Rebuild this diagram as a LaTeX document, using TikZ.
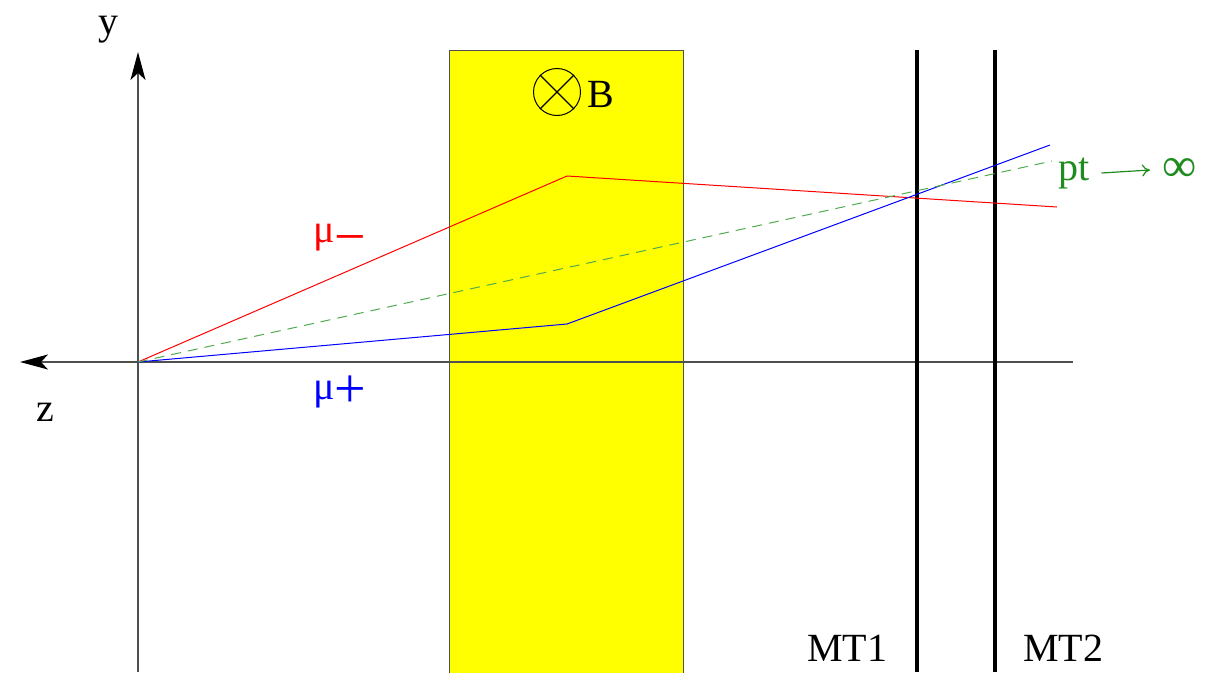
\documentclass[tikz,border=0pt]{standalone}
\usepackage{fontspec}
\setmainfont{Liberation Serif}
\usetikzlibrary{arrows.meta}
\definecolor{fieldyellow}{RGB}{255,255,0}
\definecolor{axisgray}{RGB}{80,80,80}
\definecolor{ptgreen}{RGB}{30,140,30}
\definecolor{dashgreen}{RGB}{80,170,80}
\tikzset{
  axis/.style={draw=axisgray, line width=1.2pt, -{Stealth[length=28pt, width=15pt, inset=7pt, color=black]}},
  track/.style={line width=1pt},
  station/.style={draw=black, line width=4pt},
  lbl/.style={inner sep=0pt, font=\fontsize{40}{46}\selectfont}
}
\newcommand{\bigsign}[2]{\raisebox{#1}{\scalebox{1.4}{#2}}}
\begin{document}
\begin{tikzpicture}[x=1pt, y=-1pt]
\useasboundingbox (0,0) rectangle (1218,672);
% magnet
\node (magnet) [draw=axisgray, line width=1pt, fill=fieldyellow, minimum width=234pt, minimum height=630pt, inner sep=0pt, anchor=north west] at (449,50) {};
\node (bfield) [circle, draw=black, line width=1pt, minimum size=47pt, inner sep=0pt] at (557,92) {};
\draw[line width=1.2pt] (bfield.north west) -- (bfield.south east);
\draw[line width=1.2pt] (bfield.north east) -- (bfield.south west);
\node (blabel) [lbl, anchor=west] at (587,94) {B};

% axes
\coordinate (origin) at (138,362);
\coordinate (ytip) at (138,52);
\coordinate (ybot) at (138,672);
\coordinate (ztip) at (20,362);
\coordinate (zend) at (1073,362);
\draw[axis] (ybot) -- (ytip);
\draw[axis] (zend) -- (ztip);
\node (ylabel) [lbl] at (108,30) {y};
\node (zlabel) [lbl] at (45,412) {z};

% muon stations
\coordinate (mt1top) at (917,50);
\coordinate (mt1bot) at (917,672);
\coordinate (mt2top) at (995,50);
\coordinate (mt2bot) at (995,672);
\draw[station] (mt1top) -- (mt1bot);
\draw[station] (mt2top) -- (mt2bot);
\node (mt1) [lbl] at (847,648) {MT1};
\node (mt2) [lbl] at (1063,648) {MT2};

% tracks
\coordinate (kneg) at (567,176);
\coordinate (eneg) at (1057,207);
\coordinate (kpos) at (567,324);
\coordinate (epos) at (1050,145);
\coordinate (einf) at (1052,161);
\draw[track, red] (origin) -- (kneg) -- (eneg);
\draw[track, blue] (origin) -- (kpos) -- (epos);
\draw[track, dashgreen, dash pattern=on 10pt off 7pt] (origin) -- (einf);
\node (muneg) [lbl, text=red] at (340,240) {μ\bigsign{-13pt}{−}};
\node (mupos) [lbl, text=blue] at (340,392) {μ\bigsign{-8pt}{+}};
\node (ptlabel) [lbl, text=ptgreen, anchor=west] at (1058,173) {pt};
\node (inflabel) [lbl, text=ptgreen, anchor=west] at (1162,170) {\scalebox{1.2}{∞}};
\draw[ptgreen, line width=1.2pt, -{To[length=8pt, width=12pt]}] (ptlabel.east) ++(12pt,0) coordinate (arrstart) (arrstart) -- (inflabel.west -| 1150,0);
\end{tikzpicture}
\end{document}
